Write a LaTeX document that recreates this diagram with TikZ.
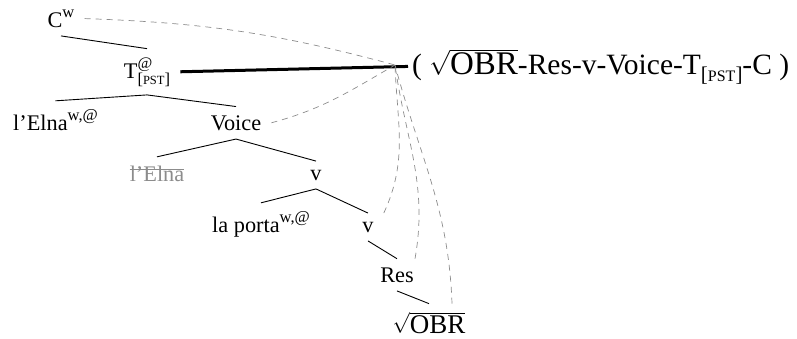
\documentclass[tikz,border=0pt]{standalone}
\usepackage{fontspec}
\setmainfont{Liberation Serif}
\usetikzlibrary{calc}
% superscript feature labels
\newcommand\supx[1]{\raisebox{9.5pt}{\fontsize{16.5}{16.5}\selectfont #1}}
% small-caps style [PST] subscript: #1 bracket size, #2 letter size
\newcommand\pstsc[2]{{\fontsize{#1}{#1}\selectfont[}{\fontsize{#2}{#2}\selectfont PST}{\fontsize{#1}{#1}\selectfont]}}
\newcommand\Tpst{T\rlap{\raisebox{10pt}{\fontsize{16}{16}\selectfont @}}\raisebox{-6pt}{\pstsc{16.5}{12.5}}}
% root OBR, #1 = letter size
\newcommand\rootobr[1]{$\sqrt{\mbox{\fontsize{#1}{#1}\selectfont OBR}}$}
\begin{document}
\begin{tikzpicture}[x=1pt,y=-1pt,
  tn/.style={anchor=base,inner xsep=10pt,inner ysep=8.5pt,font=\fontsize{22.3}{25}\selectfont},
  branch/.style={line width=0.9pt},
  mvline/.style={draw=black!45,line width=0.7pt,dash pattern=on 6pt off 5pt},
  spellout/.style={line width=3pt}]
\useasboundingbox (0,0) rectangle (797,338);

% tree nodes
\node[tn] (Cw) at (61,27) {C\supx{w}};
\node[tn] (T) at (147,78) {\Tpst};
\node[tn] (lElnaA) at (55.5,130) {l’Elna\supx{w,@}};
\node[tn] (Voice) at (236,130) {Voice};
\node[tn,text=black!45] (lElnaB) at (157,181) {l’Elna};
\node[tn] (vA) at (316,180) {v};
\node[tn] (laporta) at (261,232) {la porta\supx{w,@}};
\node[tn] (vB) at (368,232) {v};
\node[tn] (Res) at (397,282) {Res};
\node[tn] (OBR) at (429,333) {\rootobr{27}};

% linearized string
\node[anchor=base west,inner sep=0pt,font=\fontsize{29.5}{32}\selectfont] (lin) at (412,74)
  {( \rootobr{33}-Res-v-Voice-T\raisebox{-7pt}{\pstsc{21}{16}}-C )};
\coordinate (hub) at (395,65);

% strike-through of the lower copy
\draw[black!45,line width=0.8pt] ([xshift=10pt,yshift=12pt]lElnaB.base west) -- ([xshift=-10pt,yshift=12pt]lElnaB.base east);

% branches
\draw[branch] (Cw.south) -- (T.north);
\draw[branch] (T.south) -- (lElnaA.north);
\draw[branch] (T.south) -- (Voice.north);
\draw[branch] (Voice.south) -- (lElnaB.north);
\draw[branch] (Voice.south) -- (vA.north);
\draw[branch] (vA.south) -- (laporta.north);
\draw[branch] (vA.south) -- (vB.north);
\draw[branch] (vB.south) -- (Res.north);
\draw[branch] (Res.south) -- (OBR.north);

% spell-out link
\draw[spellout] (T.east) -- ([xshift=-4pt]lin.west);

% dashed links of the head chain
\draw[mvline] (Cw.east) to[out=-2,in=165] (hub);
\draw[mvline] (Voice.east) to[out=15,in=-150] (hub);
\draw[mvline] (vB.north east) to[out=65,in=-88] (hub);
\draw[mvline] ([xshift=18pt]Res.north) to[out=80,in=-82] (hub);
\draw[mvline] ([xshift=23pt]OBR.north) to[out=92,in=-75] (hub);
\end{tikzpicture}
\end{document}
